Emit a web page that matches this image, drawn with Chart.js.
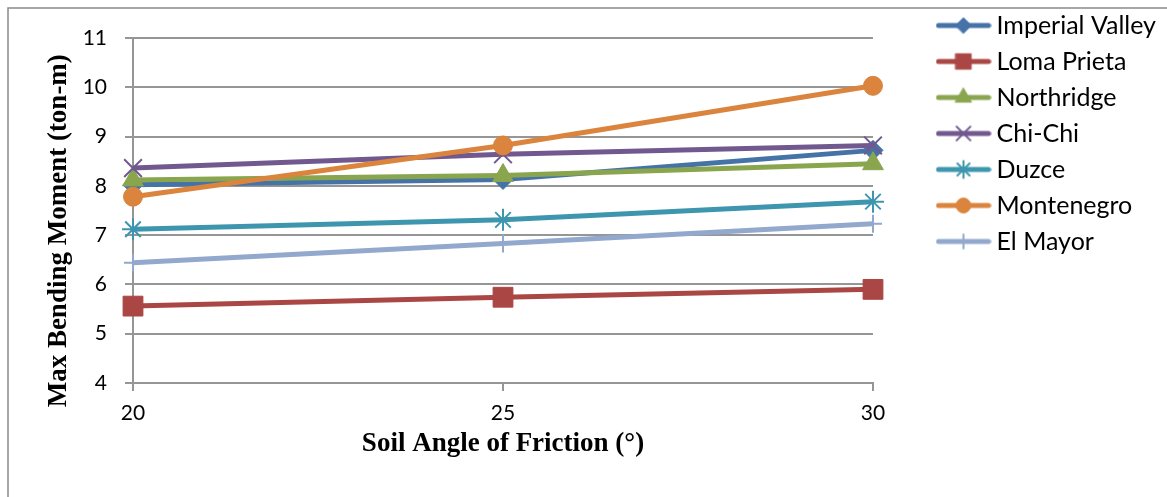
<!DOCTYPE html>
<html>
<head>
<meta charset="utf-8">
<script src="https://cdn.jsdelivr.net/npm/chart.js@4.4.1/dist/chart.umd.min.js"></script>
<style>
  html, body { margin: 0; padding: 0; background: #ffffff; }
  #wrap { position: relative; width: 1167px; height: 497px; }
  canvas { display: block; }
</style>
</head>
<body>
<div id="wrap"><canvas id="chart" width="1167" height="497"></canvas></div>
<script>
// Soil angle of friction (degrees) on the x axis
const frictionAngles = ['20', '25', '30'];

// Max bending moment (ton-m) for each earthquake record
const imperialValley = [8.02, 8.13, 8.72];
const lomaPrieta     = [5.56, 5.74, 5.90];
const northridge     = [8.12, 8.21, 8.45];
const chiChi         = [8.36, 8.64, 8.82];
const duzce          = [7.12, 7.31, 7.68];
const montenegro     = [7.78, 8.82, 10.03];
const elMayor        = [6.44, 6.83, 7.23];

const seriesNames = ['Imperial Valley', 'Loma Prieta', 'Northridge', 'Chi-Chi', 'Duzce', 'Montenegro', 'El Mayor'];
const seriesValues = [imperialValley, lomaPrieta, northridge, chiChi, duzce, montenegro, elMayor];

// y axis range
const yMin = 4;
const yMax = 11;
const yStep = 1;

// marker / colour styling per series
const seriesColors = ['#4572A7', '#AA4643', '#89A54E', '#71588F', '#3D96AE', '#DB843D', '#92A8CD'];
const seriesMarkers = ['rectRot', 'rect', 'triangle', 'crossRot', 'star', 'circle', 'cross'];
const markerRadius = [10, 14, 12, 12.5, 11, 9.5, 9];
const markerBorder = [1, 1, 1, 2, 2, 1, 2];

const GRID = '#969696';
const TICK_FONT = { family: 'Lato', size: 21 };
const LEGEND_FONT = { family: 'Lato', size: 25 };
const TITLE_FONT = { family: '"Liberation Serif"', size: 27, weight: 'bold' };

// legend icon: short thick line with the series marker in the middle
function legendIcon(i) {
  const c = document.createElement('canvas');
  c.width = 56; c.height = 24;
  const g = c.getContext('2d');
  g.strokeStyle = seriesColors[i];
  g.fillStyle = seriesColors[i];
  g.lineWidth = 5;
  g.lineCap = 'round';
  g.beginPath();
  g.moveTo(3, 12);
  g.lineTo(53, 12);
  g.stroke();
  g.lineWidth = markerBorder[i];
  Chart.helpers.drawPoint(g, {
    pointStyle: seriesMarkers[i],
    radius: markerRadius[i] * 0.78,
    rotation: 0,
    borderWidth: markerBorder[i]
  }, 28, 12);
  return c;
}

// outer frame of the chart object
const framePlugin = {
  id: 'frame',
  beforeDraw(chart) {
    const ctx = chart.ctx;
    ctx.save();
    ctx.strokeStyle = '#8a8a8a';
    ctx.lineWidth = 1.5;
    ctx.strokeRect(8, 8, 2000, 2000);
    ctx.restore();
  }
};

// size the right-hand padding so the legend column starts where intended
const measure = document.createElement('canvas').getContext('2d');
measure.font = 'normal ' + LEGEND_FONT.size + 'px ' + LEGEND_FONT.family;
const widestName = Math.max(...seriesNames.map(n => measure.measureText(n).width));
const LEGEND_PAD = 11, LEGEND_BOX = 41;
const legendWidth = LEGEND_PAD + LEGEND_BOX + LEGEND_FONT.size / 2 + widestName + 10;
const rightPad = Math.max(0, 1167 - 932 - legendWidth);

const datasets = seriesNames.map((name, i) => ({
  label: name,
  data: seriesValues[i],
  borderColor: seriesColors[i],
  backgroundColor: seriesColors[i],
  borderWidth: 5,
  pointStyle: seriesMarkers[i],
  pointRadius: markerRadius[i],
  pointHoverRadius: markerRadius[i],
  pointBorderWidth: markerBorder[i],
  pointBackgroundColor: seriesColors[i],
  pointBorderColor: seriesColors[i],
  tension: 0,
  fill: false,
  order: seriesNames.length - i
}));

new Chart(document.getElementById('chart'), {
  type: 'line',
  data: { labels: frictionAngles, datasets },
  plugins: [framePlugin],
  options: {
    responsive: false,
    animation: false,
    devicePixelRatio: 1,
    layout: { padding: { top: 2, left: 0, right: rightPad, bottom: 0 } },
    plugins: {
      tooltip: { enabled: false },
      legend: {
        position: 'right',
        align: 'start',
        maxWidth: 400,
        labels: {
          usePointStyle: true,
          pointStyleWidth: LEGEND_BOX,
          padding: LEGEND_PAD,
          color: '#000000',
          font: LEGEND_FONT,
          generateLabels: () => seriesNames.map((name, i) => ({
            text: name,
            pointStyle: legendIcon(i),
            datasetIndex: i,
            hidden: false,
            fontColor: '#000000',
            lineWidth: 0,
            strokeStyle: 'transparent',
            fillStyle: 'transparent'
          }))
        }
      }
    },
    scales: {
      x: {
        type: 'category',
        offset: false,
        grid: { display: true, drawOnChartArea: false, drawTicks: true, tickLength: 8, color: GRID, lineWidth: 2 },
        border: { display: true, color: GRID, width: 2 },
        ticks: { color: '#000000', font: TICK_FONT, padding: 10, maxRotation: 0 },
        title: { display: true, text: 'Soil Angle of Friction (°)', color: '#000000', font: TITLE_FONT, padding: { top: 0, bottom: 37 } },
        afterFit(scale) { scale.height = 114; }
      },
      y: {
        type: 'linear',
        min: yMin,
        max: yMax,
        ticks: { stepSize: yStep, color: '#000000', font: TICK_FONT, padding: 18 },
        grid: { display: true, drawTicks: true, tickLength: 8, color: GRID, lineWidth: 2 },
        border: { display: true, color: GRID, width: 2 },
        title: { display: true, text: 'Max Bending Moment (ton-m)      ', color: '#000000', font: TITLE_FONT, padding: { top: 43, bottom: 0 } },
        afterFit(scale) { scale.width = 133; scale.paddingTop = 38; }
      },
      gap: {
        type: 'linear',
        position: 'right',
        display: true,
        grid: { display: false, drawTicks: false },
        border: { display: false },
        ticks: { display: false },
        afterFit(scale) { scale.width = 59; }
      }
    }
  }
});
</script>
</body>
</html>
